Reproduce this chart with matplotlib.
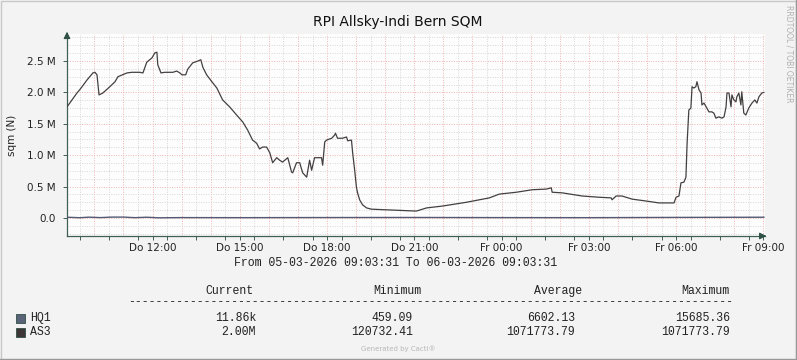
import numpy as np
import matplotlib
matplotlib.use("Agg")
import matplotlib.pyplot as plt
from matplotlib.patches import Rectangle

# time in hours since Thu 05-03-2026 00:00, values in millions
as3_t = [9.06, 9.23, 9.40, 9.51, 9.75, 9.95, 10.02, 10.09, 10.16, 10.29, 10.53, 10.71, 10.81,
         11.12, 11.29, 11.56, 11.67, 11.80, 11.98, 12.08, 12.15, 12.18, 12.29, 12.42, 12.70,
         12.83, 12.94, 13.01, 13.14, 13.21, 13.38, 13.56, 13.66, 13.73, 13.86, 14.04, 14.21,
         14.41, 14.65, 14.89, 15.10, 15.27, 15.44, 15.58, 15.68, 15.79, 15.92, 16.03, 16.13,
         16.27, 16.37, 16.47, 16.65, 16.78, 16.82, 16.95, 17.06, 17.16, 17.30, 17.40, 17.47,
         17.57, 17.67, 17.81, 17.85, 17.92, 17.98, 18.16, 18.26, 18.29, 18.36, 18.53, 18.67,
         18.71, 18.84, 18.88, 18.95, 19.01, 19.05, 19.12, 19.22, 19.36, 19.53, 20.04, 21.07,
         21.42, 21.97, 22.79, 23.58, 23.92, 24.51, 25.06, 25.54, 25.71, 25.74, 26.09, 26.77,
         27.36, 27.77, 27.80, 27.94, 28.14, 28.49, 28.97, 29.41, 29.93, 30.00, 30.10, 30.17,
         30.27, 30.34, 30.38, 30.44, 30.51, 30.55, 30.61, 30.68, 30.72, 30.79, 30.86, 30.89,
         30.96, 31.06, 31.13, 31.23, 31.30, 31.37, 31.47, 31.58, 31.65, 31.72, 31.75, 31.82,
         31.89, 31.92, 31.99, 32.06, 32.09, 32.16, 32.23, 32.26, 32.33, 32.40, 32.50, 32.61,
         32.71, 32.78, 32.85, 32.95, 33.02]
as3_v = [1.77, 1.88, 1.99, 2.05, 2.20, 2.31, 2.32, 2.28, 1.96, 1.99, 2.09, 2.17, 2.25,
         2.31, 2.32, 2.32, 2.31, 2.48, 2.55, 2.63, 2.64, 2.44, 2.31, 2.32, 2.32,
         2.34, 2.31, 2.28, 2.28, 2.37, 2.47, 2.50, 2.52, 2.40, 2.28, 2.17, 2.07,
         1.88, 1.77, 1.64, 1.53, 1.40, 1.24, 1.19, 1.10, 1.13, 1.13, 1.04, 0.88,
         0.96, 0.92, 0.89, 0.96, 0.73, 0.72, 0.88, 0.88, 0.72, 0.65, 0.92, 0.76,
         0.96, 0.96, 0.96, 0.84, 1.21, 1.24, 1.27, 1.32, 1.35, 1.27, 1.27, 1.29,
         1.23, 1.24, 1.04, 0.76, 0.49, 0.40, 0.29, 0.21, 0.16, 0.14, 0.13, 0.11,
         0.16, 0.19, 0.25, 0.32, 0.38, 0.41, 0.45, 0.46, 0.48, 0.41, 0.40, 0.35,
         0.33, 0.32, 0.29, 0.35, 0.35, 0.30, 0.27, 0.24, 0.24, 0.33, 0.35, 0.56,
         0.57, 0.65, 1.19, 1.72, 1.75, 2.09, 2.07, 2.09, 2.17, 2.04, 1.99, 1.80,
         1.83, 1.75, 1.69, 1.69, 1.67, 1.59, 1.61, 1.59, 1.61, 1.77, 1.99, 1.99,
         1.77, 1.96, 1.88, 1.85, 1.93, 1.99, 1.80, 2.01, 1.67, 1.64, 1.75, 1.83,
         1.88, 1.83, 1.93, 1.99, 2.00]

hq1_t = [9.06, 9.5, 9.8, 10.2, 10.6, 11.0, 11.4, 11.8, 12.2, 13.0, 15.0, 18.0, 21.0, 24.0, 27.0, 30.0, 33.02]
hq1_v = [0.012, 0.004, 0.013, 0.006, 0.014, 0.014, 0.005, 0.012, 0.003, 0.006, 0.005, 0.007, 0.008,
         0.006, 0.005, 0.009, 0.012]

xtick_pos = [12, 15, 18, 21, 24, 27, 30, 33]
xtick_lab = ["Do 12:00", "Do 15:00", "Do 18:00", "Do 21:00", "Fr 00:00", "Fr 03:00", "Fr 06:00", "Fr 09:00"]
ytick_pos = [0.0, 0.5, 1.0, 1.5, 2.0, 2.5]
ytick_lab = ["0.0", "0.5 M", "1.0 M", "1.5 M", "2.0 M", "2.5 M"]

series = ["HQ1", "AS3"]
cur = ["11.86k", "2.00M"]
mins = ["459.09", "120732.41"]
avgs = ["6602.13", "1071773.79"]
maxs = ["15685.36", "1071773.79"]
colors = ["#5a6478", "#3e3636"]

W, H = 797, 360
fig = plt.figure(figsize=(W / 100, H / 100), dpi=100)
fig.patch.set_facecolor("#f3f3f3")

def fx(px):
    return px / W

def fy(py):
    return 1 - py / H

ax = fig.add_axes([fx(67), fy(236), fx(765 - 67), (236 - 34) / H])
ax.set_facecolor("#fdfdfd")
t0 = 9.0586
t1 = t0 + 24
ax.set_xlim(t0, t1)
ax.set_ylim(-0.287, 2.93)

dot = (0, (1, 1.5))
for m in np.arange(9.5, 33.01, 0.5):
    if abs(m - round(m)) < 1e-6:
        ax.axvline(m, color="#f0b4b4", lw=0.7, ls=dot, zorder=1)
    else:
        ax.axvline(m, color="#d6d6d6", lw=0.7, ls=dot, zorder=1)
for v in np.arange(-0.25, 2.93, 0.125):
    if abs(v * 2 - round(v * 2)) < 1e-6:
        ax.axhline(v, color="#f0b4b4", lw=0.7, ls=dot, zorder=1)
    else:
        ax.axhline(v, color="#d6d6d6", lw=0.7, ls=dot, zorder=1)

ax.plot(hq1_t, hq1_v, color="#525a74", lw=1.0, zorder=3)
ax.plot(as3_t, as3_v, color="#444040", lw=0.9, zorder=4)

for s in ["top", "right"]:
    ax.spines[s].set_visible(False)
for s in ["left", "bottom"]:
    ax.spines[s].set_color("#3f5f55")
    ax.spines[s].set_linewidth(0.9)

ax.set_xticks(xtick_pos)
ax.set_xticklabels(xtick_lab, fontsize=7.5, color="#222222")
ax.set_xticks(np.arange(9.5, 33.01, 1.0), minor=True)
ax.set_yticks(ytick_pos)
ax.set_yticklabels(ytick_lab, fontsize=7.5, color="#222222")
ax.tick_params(axis="x", which="both", length=3, width=0.7, color="#3f5f55", pad=2)
ax.tick_params(axis="y", length=3, width=0.7, color="#3f5f55", pad=5)
ax.set_ylabel("sqm (N)", fontsize=7.5, color="#222222")
ax.yaxis.set_label_coords(-0.071, 0.5)

# axis arrows
ax.annotate("", xy=(0, 1.025), xytext=(0, 0.98), xycoords="axes fraction",
            arrowprops=dict(arrowstyle="-|>,head_length=0.4,head_width=0.2", color="#2f5045", lw=0.8),
            annotation_clip=False)
ax.annotate("", xy=(1.006, 0), xytext=(0.99, 0), xycoords="axes fraction",
            arrowprops=dict(arrowstyle="-|>,head_length=0.4,head_width=0.2", color="#2f5045", lw=0.8),
            annotation_clip=False)

fig.text(fx(398), fy(22), "RPI Allsky-Indi Bern SQM", fontsize=10, ha="center", va="center", color="#111111")
fig.text(fx(789), fy(5), "RRDTOOL / TOBI OETIKER", fontsize=5.5, rotation=270, ha="center", va="top",
         color="#b0b0b0")

mono = "Liberation Mono"
fs = 8.3
fig.text(fx(234), fy(263), "From 05-03-2026 09:03:31 To 06-03-2026 09:03:31", family=mono, fontsize=fs,
         ha="left", va="center", color="#222222")
for lab, x in [("Current", 205), ("Minimum", 373), ("Average", 534), ("Maximum", 681)]:
    fig.text(fx(x), fy(291), lab, family=mono, fontsize=fs, ha="left", va="center", color="#222222")
fig.text(fx(128), fy(302), "-" * 88, family=mono, fontsize=fs, ha="left", va="center", color="#222222")

for i, name in enumerate(series):
    yy = 318 + i * 14
    fig.patches.append(Rectangle((fx(16), fy(yy + 5)), fx(9), 9.5 / H, transform=fig.transFigure,
                                 facecolor=colors[i], edgecolor="#2f4f45", lw=0.6))
    fig.text(fx(30), fy(yy), name, family=mono, fontsize=fs, ha="left", va="center", color="#222222")
    fig.text(fx(256), fy(yy), cur[i], family=mono, fontsize=fs, ha="right", va="center", color="#222222")
    fig.text(fx(413), fy(yy), mins[i], family=mono, fontsize=fs, ha="right", va="center", color="#222222")
    fig.text(fx(575), fy(yy), avgs[i], family=mono, fontsize=fs, ha="right", va="center", color="#222222")
    fig.text(fx(730), fy(yy), maxs[i], family=mono, fontsize=fs, ha="right", va="center", color="#222222")

fig.text(fx(398), fy(349), "Generated by Cacti\u00ae", fontsize=5, ha="center", va="center", color="#b8b8b8")

# frame
fig.patches.append(Rectangle((0.5 / W, 0.5 / H), 1 - 1.5 / W, 1 - 1.5 / H, transform=fig.transFigure,
                             facecolor="none", edgecolor="#c8c8c8", lw=1.0))
fig.add_artist(plt.Line2D([1 - 1 / W, 1 - 1 / W], [0, 1], transform=fig.transFigure, color="#999999", lw=1))
fig.add_artist(plt.Line2D([0, 1], [1 / H, 1 / H], transform=fig.transFigure, color="#999999", lw=1))

fig.savefig("out.png", dpi=100, facecolor=fig.get_facecolor())
